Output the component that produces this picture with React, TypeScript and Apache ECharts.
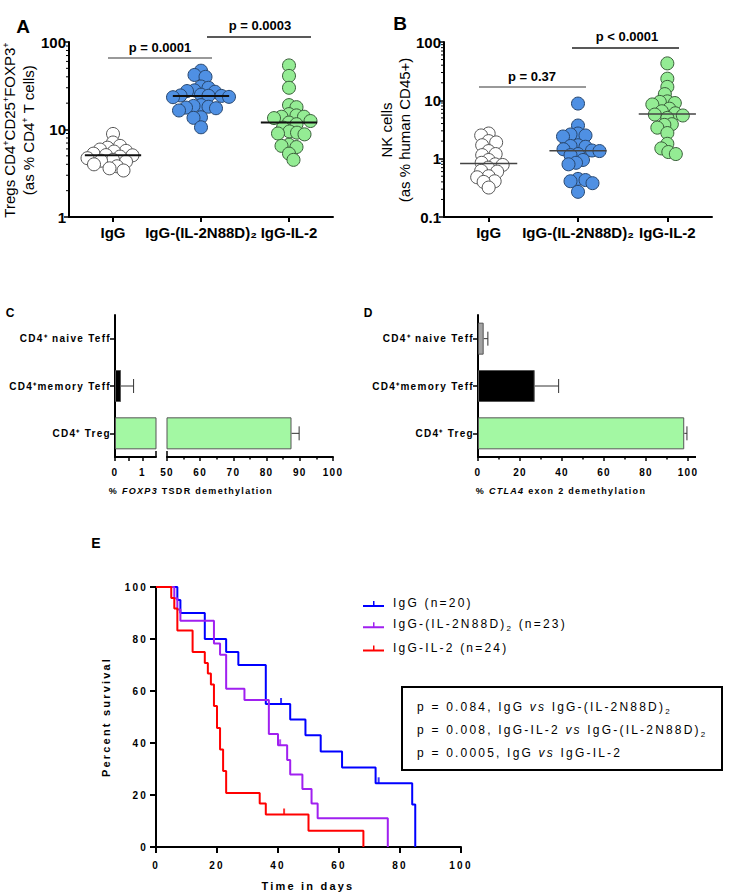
import React, { useEffect, useRef } from 'react';
import * as echarts from 'echarts';

/* ---------------- data ---------------- */
const swarmCategories = ['IgG', 'IgG-(IL-2N88D)₂', 'IgG-IL-2'];

// Panel A: Tregs CD4+CD25+FOXP3+ (as % CD4+ T cells)
const tregIgG = [8.9, 7.1, 6.5, 6.2, 5.9, 5.7, 5.6, 5.3, 5.1, 5.07, 4.9, 4.7, 4.5, 4.4, 4.3, 4.0, 3.8, 3.6, 3.4];
const tregN88D = [47, 42, 40, 31, 30, 28, 27.5, 27, 25, 24.5, 24.3, 24.2, 23.6, 23.4, 19, 18.6, 18.2, 17.8, 17.5, 16.5, 13.8, 13.6, 10.6];
const tregIL2 = [54, 41, 30, 19, 18, 15, 14.5, 14, 14, 13.5, 12.5, 12, 11.5, 10.5, 9.5, 9.2, 9, 8.8, 6.7, 6.5, 6.3, 5.3, 4.5];
const tregPValues = ['p = 0.0001', 'p = 0.0003'];
const tregAxisName = ['Tregs CD4^+CD25^+FOXP3^+', '(as % CD4^+ T cells)'];

// Panel B: NK cells (as % human CD45+)
const nkIgG = [2.7, 2.5, 2.0, 1.9, 1.7, 1.35, 1.2, 1.15, 0.95, 0.85, 0.8, 0.78, 0.7, 0.62, 0.6, 0.5, 0.48, 0.41, 0.4, 0.32];
const nkN88D = [8.8, 3.7, 2.7, 2.6, 2.5, 2.4, 1.7, 1.65, 1.6, 1.45, 1.38, 1.35, 1.2, 1.15, 0.95, 0.85, 0.8, 0.45, 0.43, 0.41, 0.38, 0.27];
const nkIL2 = [43, 23.5, 17, 12.8, 9.6, 9.4, 9.0, 8.5, 7.2, 6.5, 6.0, 5.7, 5.5, 5.0, 3.9, 3.8, 3.4, 2.75, 1.8, 1.5, 1.3, 1.2];
const nkPValues = ['p = 0.37', 'p < 0.0001'];
const nkAxisName = ['NK cells', '(as % human CD45+)'];

// Panels C / D: demethylation
const methCategories = ['CD4⁺ naive Teff', 'CD4⁺memory Teff', 'CD4⁺ Treg'];
const foxp3Mean = [0, 0.22, 87.5];
const foxp3Err = [0, 0.46, 2.3];
const ctla4Mean = [2.7, 27, 98.2];
const ctla4Err = [2.0, 11.4, 1.3];
const methAxisNames = ['% _FOXP3_ TSDR demethylation', '% _CTLA4_ exon 2 demethylation'];

// Panel E: survival
const survIgG = [[0, 100], [7, 95], [8, 90], [16, 80], [23, 75], [27, 70], [36, 55], [44, 49], [49, 43], [54, 36.7], [61, 30.6], [72, 24.5], [84, 16.3], [85, 0]];
const survN88D = [[0, 100], [6, 95.7], [7, 91.3], [8, 87], [19, 78.3], [21, 73.9], [23, 60.9], [29, 56.5], [37, 43.5], [40, 39.1], [43, 33.5], [44, 27.9], [48, 22.3], [51, 16.7], [53, 11.1], [76, 0]];
const survIL2 = [[0, 100], [5, 95.8], [6, 91.7], [7, 83.3], [12, 75], [16, 70.8], [17, 66.7], [18, 62.5], [19, 54.2], [20, 45.8], [21, 37.5], [22, 29.2], [23, 20.8], [34, 16.7], [36, 12.5], [50, 6.25], [68, 0]];
const censIgG = [[41, 55], [73, 24.5]];
const censN88D = [[40.7, 39.1]];
const censIL2 = [[42, 12.5]];
const survNames = ['IgG (n=20)', 'IgG-(IL-2N88D)2 (n=23)', 'IgG-IL-2 (n=24)'];
const survPTexts = [
  'p = 0.084, IgG _vs_ IgG-(IL-2N88D)2',
  'p = 0.008, IgG-IL-2 _vs_ IgG-(IL-2N88D)2',
  'p = 0.0005, IgG _vs_ IgG-IL-2',
];

/* ---------------- styling ---------------- */
const AR = "'Liberation Sans', Arial";
const LSA = "'Liberation Sans', lspa"; // letter-spaced (C/D)
const LSB = "'Liberation Sans', lspb"; // letter-spaced (E)
const SPACING: Record<string, number> = { lspa: 1.3, lspb: 2.2 };
const css =
  'text[style*="lspa"],text[font-family*="lspa"]{letter-spacing:1.3px}' +
  'text[style*="lspb"],text[font-family*="lspb"]{letter-spacing:2.2px}';

const measureCtx = typeof document !== 'undefined' ? document.createElement('canvas').getContext('2d') : null;
if (measureCtx && typeof (echarts as any).setPlatformAPI === 'function') {
  (echarts as any).setPlatformAPI({
    measureText(text: string, font?: string) {
      measureCtx.font = font || '12px sans-serif';
      let w = measureCtx.measureText(text).width;
      if (font) {
        for (const k in SPACING) if (font.indexOf(k) >= 0) w += SPACING[k] * text.length;
      }
      return { width: w };
    },
  });
}

const GRID_A = { left: 69, top: 42, width: 264, height: 175 };
const GRID_B = { left: 444, top: 42, width: 268, height: 175 };
const GRID_C1 = { left: 115, top: 315, width: 41, height: 142 };
const GRID_C2 = { left: 167, top: 315, width: 166, height: 142 };
const GRID_D = { left: 478, top: 315, width: 210, height: 142 };
const GRID_E = { left: 156, top: 587, width: 305, height: 260 };

const dotStyles = [
  { color: '#ffffff', borderColor: '#555555' },
  { color: '#4f90e3', borderColor: '#27466e' },
  { color: '#94ec94', borderColor: '#3a5e3a' },
];
const barColors = ['#a3a3a3', '#000000', '#a3f8a3'];
const survColors = ['#0000ff', '#a020f0', '#ff0000'];

function toRich(s: string): string {
  let out = '';
  let buf = '';
  let italic = false;
  const flush = () => {
    if (buf) {
      out += `{${italic ? 'i' : 't'}|${buf}}`;
      buf = '';
    }
  };
  for (let k = 0; k < s.length; k++) {
    const ch = s[k];
    if (ch === '_') { flush(); italic = !italic; continue; }
    if (ch === '^') { flush(); out += `{u|${s[k + 1]}}`; k++; continue; }
    if (ch === ')' && s[k + 1] === '2') { buf += ')'; flush(); out += '{s|2}'; k++; continue; }
    buf += ch;
  }
  flush();
  return out;
}

function makeRich(family: string, size: number, weight: string, subSize: number, supSize: number, padBottom: number) {
  const base = { fontFamily: family, fontSize: size, fontWeight: weight, color: '#000', fill: '#000', padding: [0, 0, padBottom, 0] };
  return {
    t: { ...base },
    i: { ...base, fontStyle: 'italic' },
    s: { fontFamily: family, fontSize: subSize, fontWeight: weight, color: '#000', fill: '#000', verticalAlign: 'bottom' },
    u: { fontFamily: family, fontSize: supSize, fontWeight: weight, color: '#000', fill: '#000', verticalAlign: 'top' },
  };
}

function median(a: number[]) {
  const s = [...a].sort((x, y) => x - y);
  const m = Math.floor(s.length / 2);
  return s.length % 2 ? s[m] : (s[m - 1] + s[m]) / 2;
}

// beeswarm: horizontal offsets (in category units) so that dots do not pile up
function swarmOffsets(values: number[], logMin: number, logMax: number, grid: any, nCats: number, dot: number) {
  const pxPerLog = grid.height / (logMax - logMin);
  const pxPerUnit = grid.width / nCats;
  const placed: number[][] = [];
  return values.map((v, idx) => {
    const y = (Math.log10(v) - logMin) * pxPerLog;
    const sign = idx % 2 === 0 ? 1 : -1;
    let x = 0;
    for (let k = 0; k < 600; k++) {
      const cand = k === 0 ? 0 : (k % 2 === 1 ? sign : -sign) * Math.ceil(k / 2) * 0.5;
      if (placed.every(([px, py]) => (px - cand) ** 2 + (py - y) ** 2 >= dot * dot)) { x = cand; break; }
    }
    placed.push([x, y]);
    return x / pxPerUnit;
  });
}

function logMinorTicks(min: number, max: number) {
  const out: number[][] = [];
  for (let d = Math.round(Math.log10(min)); d < Math.round(Math.log10(max)); d++) {
    for (let k = 2; k <= 9; k++) out.push([0, +(k * Math.pow(10, d)).toPrecision(3)]);
  }
  return out;
}

const axisLineBlack = { show: true, onZero: false, lineStyle: { color: '#000', width: 2 } };

function buildOption() {
  const richE = makeRich(LSB, 12, 'normal', 8, 7, 2);
  const richYA = makeRich(AR, 15, 'normal', 10, 9, 0);
  const richCDname = makeRich(LSA, 9, 'bold', 7, 6, 0);

  const scatterPanel = (groups: number[][], xIdx: number, yIdx: number, grid: any, lmin: number, lmax: number, medColor: string, medWidth: number) => {
    const series: any[] = [];
    groups.forEach((vals, ci) => {
      const offs = swarmOffsets(vals, lmin, lmax, grid, 3, 7.5);
      series.push({
        type: 'scatter', xAxisIndex: xIdx, yAxisIndex: yIdx, symbolSize: 13, z: 3,
        itemStyle: { color: dotStyles[ci].color, borderColor: dotStyles[ci].borderColor, borderWidth: 1, opacity: 1 },
        data: vals.map((v, i) => [ci + 0.5 + offs[i], v]),
      });
    });
    series.push({
      type: 'custom', xAxisIndex: xIdx, yAxisIndex: yIdx, z: 5,
      data: groups.map((vals, ci) => [ci + 0.5, median(vals)]),
      renderItem: (params: any, api: any) => {
        const x = api.value(0);
        const v = api.value(1);
        const a = api.coord([x - 0.32, v]);
        const b = api.coord([x + 0.32, v]);
        return { type: 'line', shape: { x1: a[0], y1: a[1], x2: b[0], y2: b[1] }, style: { stroke: medColor, lineWidth: medWidth } };
      },
    });
    series.push({
      type: 'custom', xAxisIndex: xIdx, yAxisIndex: yIdx, z: 6, silent: true,
      data: logMinorTicks(Math.pow(10, lmin), Math.pow(10, lmax)),
      renderItem: (params: any, api: any) => {
        const p = api.coord([0, api.value(1)]);
        return { type: 'line', shape: { x1: p[0] - 3, y1: p[1], x2: p[0], y2: p[1] }, style: { stroke: '#000', lineWidth: 1 } };
      },
    });
    return series;
  };

  const errRender = (params: any, api: any) => {
    const v = api.value(0);
    const c = api.value(1);
    const e = api.value(2);
    if (!e) return null;
    const a = api.coord([v, c]);
    const b = api.coord([v + e, c]);
    const st = { stroke: '#333', lineWidth: 1 };
    return {
      type: 'group',
      children: [
        { type: 'line', shape: { x1: a[0], y1: a[1], x2: b[0], y2: b[1] }, style: st },
        { type: 'line', shape: { x1: b[0], y1: b[1] - 7, x2: b[0], y2: b[1] + 7 }, style: st },
      ],
    };
  };

  const barData = (means: number[]) => means.map((v, i) => ({ value: v === 0 ? null : v, itemStyle: { color: barColors[i] } }));

  const catAxisAB = (gridIndex: number) => ({
    type: 'category', gridIndex, data: swarmCategories,
    axisLine: axisLineBlack,
    axisTick: { show: true, alignWithLabel: true, interval: 0, length: 5, lineStyle: { color: '#000', width: 2 } },
    axisLabel: { interval: 0, fontFamily: AR, fontWeight: 'bold', fontSize: 15, color: '#000', margin: 8 },
  });
  const logAxis = (gridIndex: number, min: number) => ({
    type: 'log', gridIndex, min, max: 100, logBase: 10,
    axisLine: axisLineBlack,
    axisTick: { show: true, length: 5, lineStyle: { color: '#000', width: 1.5 } },
    axisLabel: { fontFamily: AR, fontWeight: 'bold', fontSize: 15, color: '#000', margin: 3 },
    splitLine: { show: false },
  });
  const valAxisCD = (gridIndex: number, min: number, max: number, interval: number, extra: any = {}) => ({
    type: 'value', gridIndex, min, max, interval,
    axisLine: axisLineBlack,
    axisTick: { show: true, length: 4, lineStyle: { color: '#000', width: 1.5 } },
    minorTick: { show: true, splitNumber: 2, length: 2.5, lineStyle: { color: '#000', width: 1.5 } },
    axisLabel: { fontFamily: LSA, fontWeight: 'bold', fontSize: 10, color: '#000', margin: 10 },
    splitLine: { show: false },
    minorSplitLine: { show: false },
    ...extra,
  });
  const catAxisCD = (gridIndex: number, show: boolean) => ({
    type: 'category', gridIndex, data: methCategories, inverse: true, show,
    axisLine: axisLineBlack,
    axisTick: { show: true, alignWithLabel: true, length: 5, lineStyle: { color: '#000', width: 1.5 } },
    axisLabel: { interval: 0, fontFamily: LSA, fontWeight: 'bold', fontSize: 10, color: '#000', margin: 4, overflow: 'none', hideOverlap: false },
  });
  const valAxisE = (gridIndex: number, margin: number) => ({
    type: 'value', gridIndex, min: 0, max: 100, interval: 20,
    axisLine: axisLineBlack,
    axisTick: { show: true, length: 6, lineStyle: { color: '#000', width: 2 } },
    axisLabel: { fontFamily: LSB, fontWeight: 'bold', fontSize: 10, color: '#000', margin },
    splitLine: { show: false },
  });

  const gridBase = { containLabel: false, outerBoundsMode: 'none' };

  const text = (x: number, y: number, str: string, style: any) => ({
    type: 'text', x, y, silent: true,
    style: { text: str, fill: '#000', align: 'center', verticalAlign: 'middle', ...style },
  });
  const hline = (x1: number, x2: number, y: number, color: string) => ({
    type: 'line', silent: true, shape: { x1, y1: y, x2, y2: y }, style: { stroke: color, lineWidth: 1.5 },
  });
  const rotText = (x: number, y: number, style: any) => ({
    type: 'text', x, y, rotation: Math.PI / 2, silent: true,
    style: { fill: '#000', align: 'center', verticalAlign: 'middle', ...style },
  });

  const graphic: any[] = [
    // panel letters
    text(23, 26, 'A', { fontFamily: AR, fontWeight: 'bold', fontSize: 19 }),
    text(400, 23, 'B', { fontFamily: AR, fontWeight: 'bold', fontSize: 19 }),
    text(10, 313, 'C', { fontFamily: AR, fontWeight: 'bold', fontSize: 12 }),
    text(368, 313, 'D', { fontFamily: AR, fontWeight: 'bold', fontSize: 12 }),
    text(96, 543, 'E', { fontFamily: AR, fontWeight: 'bold', fontSize: 14 }),
    // A / B y-axis names
    rotText(9, 130, { text: toRich(tregAxisName[0]), rich: richYA }),
    rotText(28, 130, { text: toRich(tregAxisName[1]), rich: richYA }),
    rotText(386, 130, { text: nkAxisName[0], fontFamily: AR, fontSize: 15 }),
    rotText(404, 130, { text: nkAxisName[1], fontFamily: AR, fontSize: 15 }),
    // p-value brackets A
    hline(108, 212, 58, '#777'),
    text(160, 47, tregPValues[0], { fontFamily: AR, fontWeight: 'bold', fontSize: 13 }),
    hline(207, 311, 37, '#222'),
    text(260, 25, tregPValues[1], { fontFamily: AR, fontWeight: 'bold', fontSize: 13 }),
    // p-value brackets B
    hline(479, 586, 87, '#777'),
    text(532, 76, nkPValues[0], { fontFamily: AR, fontWeight: 'bold', fontSize: 13 }),
    hline(572, 679, 48, '#222'),
    text(627, 36, nkPValues[1], { fontFamily: AR, fontWeight: 'bold', fontSize: 13 }),
    // C axis break marks
    { type: 'line', silent: true, shape: { x1: 156, y1: 457, x2: 156, y2: 451 }, style: { stroke: '#000', lineWidth: 1.5 } },
    { type: 'line', silent: true, shape: { x1: 167, y1: 457, x2: 167, y2: 451 }, style: { stroke: '#000', lineWidth: 1.5 } },
    // D axis line running a little past 100
    { type: 'line', silent: true, shape: { x1: 688, y1: 457, x2: 696, y2: 457 }, style: { stroke: '#000', lineWidth: 2 } },
    // C / D x-axis names
    { type: 'text', x: 191, y: 491, silent: true, style: { text: toRich(methAxisNames[0]), rich: richCDname, align: 'center', verticalAlign: 'middle' } },
    { type: 'text', x: 561, y: 491, silent: true, style: { text: toRich(methAxisNames[1]), rich: richCDname, align: 'center', verticalAlign: 'middle' } },
    // E axis names
    rotText(106, 717, { text: 'Percent survival', fontFamily: LSB, fontWeight: 'bold', fontSize: 11 }),
    text(308, 886, 'Time in days', { fontFamily: LSB, fontWeight: 'bold', fontSize: 11 }),
    // E p-value box
    { type: 'rect', silent: true, shape: { x: 402, y: 687, width: 320, height: 83 }, style: { fill: 'none', stroke: '#000', lineWidth: 2 } },
    ...survPTexts.map((s, i) => ({
      type: 'text', x: 417, y: 708 + i * 23, silent: true,
      style: { text: toRich(s), rich: richE, align: 'left', verticalAlign: 'middle' },
    })),
  ];

  const option: any = {
    animation: false,
    backgroundColor: '#fff',
    grid: [GRID_A, GRID_B, GRID_C1, GRID_C2, GRID_D, GRID_E].map((g) => ({ ...gridBase, ...g })),
    xAxis: [
      catAxisAB(0),
      { type: 'value', gridIndex: 0, min: 0, max: 3, show: false },
      catAxisAB(1),
      { type: 'value', gridIndex: 1, min: 0, max: 3, show: false },
      valAxisCD(2, 0, 1.5, 0.5, {
        minorTick: { show: false },
        axisTick: { show: true, length: 4, customValues: [0, 0.5, 1], lineStyle: { color: '#000', width: 1.5 } },
        axisLabel: {
          fontFamily: LSA, fontWeight: 'bold', fontSize: 10, color: '#000', margin: 10, customValues: [0, 1],
          formatter: (v: number) => (v === 0 || v === 1 ? String(v) : ''),
        },
      }),
      valAxisCD(3, 50, 100, 10),
      valAxisCD(4, 0, 100, 20),
      valAxisE(5, 12),
    ],
    yAxis: [
      logAxis(0, 1),
      logAxis(1, 0.1),
      catAxisCD(2, true),
      catAxisCD(3, false),
      catAxisCD(4, true),
      valAxisE(5, 8),
    ],
    legend: {
      data: survNames,
      orient: 'vertical',
      left: 358,
      top: 591,
      itemWidth: 21,
      itemHeight: 6,
      itemGap: 7,
      icon: 'path://M0,4h21v2h-21z M10,0h1.5v4h-1.5z',
      selectedMode: false,
      formatter: (n: string) => toRich(n),
      textStyle: { fontFamily: LSB, fontSize: 12, color: '#000', padding: [0, 0, 0, 4], rich: richE },
    },
    graphic,
    series: [
      ...scatterPanel([tregIgG, tregN88D, tregIL2], 1, 0, GRID_A, 0, 2, '#111', 2),
      ...scatterPanel([nkIgG, nkN88D, nkIL2], 3, 1, GRID_B, -1, 2, '#444', 1.5),
      // C
      { type: 'bar', xAxisIndex: 4, yAxisIndex: 2, barWidth: 32, clip: true, data: barData(foxp3Mean), itemStyle: { borderColor: '#555', borderWidth: 1 } },
      { type: 'bar', xAxisIndex: 5, yAxisIndex: 3, barWidth: 32, clip: true, data: barData(foxp3Mean), itemStyle: { borderColor: '#555', borderWidth: 1 } },
      { type: 'custom', xAxisIndex: 4, yAxisIndex: 2, clip: true, encode: { x: 0, y: 1 }, data: foxp3Mean.map((v, i) => [v, i, foxp3Err[i]]), renderItem: errRender },
      { type: 'custom', xAxisIndex: 5, yAxisIndex: 3, clip: true, encode: { x: 0, y: 1 }, data: foxp3Mean.map((v, i) => [v, i, foxp3Err[i]]), renderItem: errRender },
      // D
      { type: 'bar', xAxisIndex: 6, yAxisIndex: 4, barWidth: 32, clip: true, data: barData(ctla4Mean), itemStyle: { borderColor: '#555', borderWidth: 1 } },
      { type: 'custom', xAxisIndex: 6, yAxisIndex: 4, encode: { x: 0, y: 1 }, data: ctla4Mean.map((v, i) => [v, i, ctla4Err[i]]), renderItem: errRender },
      // E
      ...[survIgG, survN88D, survIL2].map((d, i) => ({
        type: 'line', name: survNames[i], xAxisIndex: 7, yAxisIndex: 5, step: 'end', symbol: 'none', z: 3 + i,
        lineStyle: { width: 2, color: survColors[i] }, itemStyle: { color: survColors[i] }, data: d,
      })),
      ...[censIgG, censN88D, censIL2].map((d, i) => ({
        type: 'scatter', name: 'censored ' + i, xAxisIndex: 7, yAxisIndex: 5, symbol: 'rect', symbolSize: [2, 6], symbolOffset: [0, -3], z: 6,
        itemStyle: { color: survColors[i] }, data: d, silent: true,
      })),
    ],
  };
  return option;
}

export default function App() {
  const ref = useRef<HTMLDivElement>(null);
  useEffect(() => {
    if (!ref.current) return;
    const chart = echarts.init(ref.current, undefined, { renderer: 'svg' });
    chart.setOption(buildOption());
    return () => chart.dispose();
  }, []);
  return (
    <>
      <style>{css}</style>
      <div ref={ref} style={{ position: 'absolute', left: 0, top: 0, width: 743, height: 894, background: '#fff' }} />
    </>
  );
}
